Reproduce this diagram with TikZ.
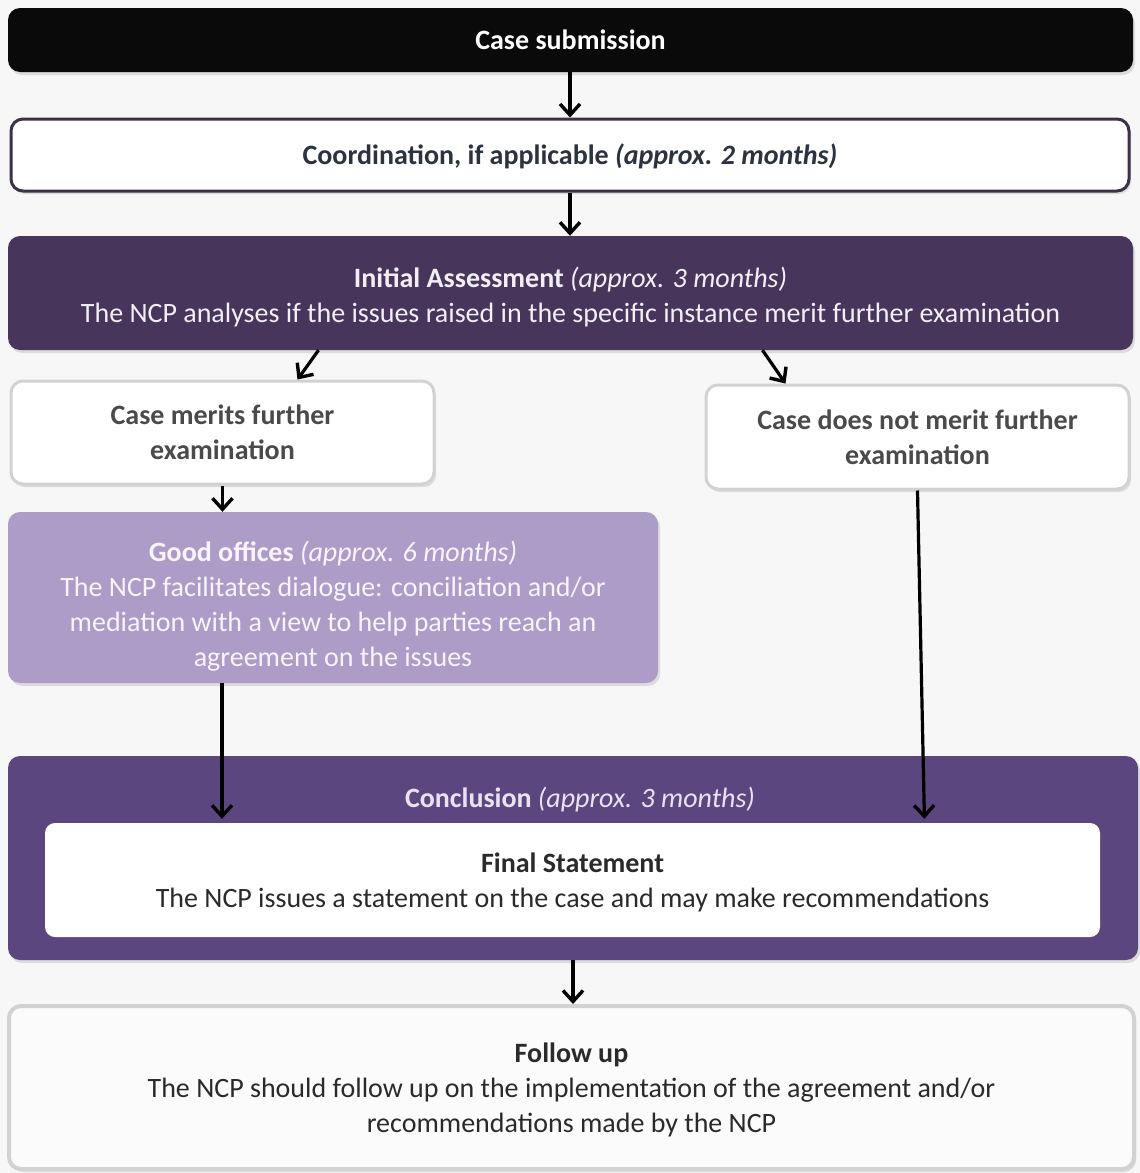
\documentclass[tikz,border=0pt]{standalone}
\usepackage{fontspec}
\setmainfont{Carlito}
\usetikzlibrary{arrows.meta,shadows}
\definecolor{bgc}{HTML}{F7F7F7}
\definecolor{blk}{HTML}{0A0A0A}
\definecolor{coordb}{HTML}{3B3148}
\definecolor{coordt}{HTML}{2B3240}
\definecolor{initf}{HTML}{47355C}
\definecolor{initt}{HTML}{F2EFF6}
\definecolor{greyb}{HTML}{D2D2D2}
\definecolor{greyt}{HTML}{4A4A4A}
\definecolor{goodf}{HTML}{AD9CC7}
\definecolor{goodt}{HTML}{F7F4FB}
\definecolor{conclf}{HTML}{5B4680}
\definecolor{conclt}{HTML}{EAE2F2}
\definecolor{darkt}{HTML}{2A2A2A}
\begin{document}
\begin{tikzpicture}[x=1pt,y=-1pt,
  box/.style={rectangle, rounded corners=12pt, align=center, inner sep=0pt,
    font=\fontsize{28}{35}\selectfont,
    drop shadow={shadow xshift=2pt,shadow yshift=-3pt,opacity=0.22}},
  plain/.style={align=center, inner sep=0pt, font=\fontsize{28}{35}\selectfont},
  arr/.style={-{Straight Barb[length=11pt,width=20pt,line width=3.4pt]}, line width=3.2pt, black}]
\fill[bgc] (0,0) rectangle (1140,1173);
\useasboundingbox (0,0) rectangle (1140,1173);

\node[box, fill=blk, text=white, minimum width=1125pt, minimum height=64pt] (sub) at (570.5,40) {\textbf{Case submission}};

\node[box, fill=white, draw=coordb, line width=3pt, text=coordt, minimum width=1118pt, minimum height=72pt] (coord) at (570,155) {\rule{0pt}{23pt}\textbf{Coordination, if applicable \textit{(approx. 2 months)}}};

\node[box, fill=initf, text=initt, minimum width=1125pt, minimum height=114pt] (init) at (570.5,293) {\rule{0pt}{29pt}\textbf{Initial Assessment} \textit{(approx. 3 months)}\\The NCP analyses if the issues raised in the specific instance merit further examination};

\node[box, fill=white, draw=greyb, line width=3pt, text=greyt, minimum width=423pt, minimum height=103pt] (merit) at (222.5,432.5) {\textbf{Case merits further}\\\textbf{examination}};

\node[box, fill=white, draw=greyb, line width=3pt, text=greyt, minimum width=423pt, minimum height=104pt] (nomerit) at (917.5,437) {\textbf{Case does not merit further}\\\textbf{examination}};

\node[box, fill=goodf, text=goodt, minimum width=650pt, minimum height=171pt] (good) at (333,597.5) {\rule{0pt}{37pt}\textbf{Good offices} \textit{(approx. 6 months)}\\The NCP facilitates dialogue: conciliation and/or\\mediation with a view to help parties reach an\\agreement on the issues};

\node[box, fill=conclf, minimum width=1130pt, minimum height=204pt] (concl) at (573,858) {};
\node[plain, text=conclt] (concltxt) at (580,800) {\textbf{Conclusion} \textit{(approx. 3 months)}};
\node[rectangle, rounded corners=10pt, fill=white, align=center, inner sep=0pt, text=darkt, font=\fontsize{28}{35}\selectfont, minimum width=1055pt, minimum height=114pt] (final) at (572.5,880) {\rule{0pt}{25pt}\textbf{Final Statement}\\The NCP issues a statement on the case and may make recommendations};

\node[box, fill=white!97!gray, draw=greyb, line width=4pt, text=darkt, minimum width=1125pt, minimum height=163pt] (follow) at (571.5,1087.5) {\rule{0pt}{25pt}\textbf{Follow up}\\The NCP should follow up on the implementation of the agreement and/or\\recommendations made by the NCP};

\draw[arr] (sub.south -| 570,0) -- (coord.north -| 570,0);
\draw[arr] (coord.south -| 570,0) -- (init.north -| 570,0);
\draw[arr] ([xshift=-252pt]init.south) -- ([xshift=75pt]merit.north);
\draw[arr] ([xshift=192pt]init.south) -- ([xshift=-132pt]nomerit.north);
\draw[arr] (merit.south) -- (merit.south |- good.north);
\draw[arr, shorten >=4pt] (good.south -| 222,0) -- (final.north -| 222,0);
\draw[arr, shorten >=4pt] (nomerit.south) -- ([xshift=7pt]nomerit.south |- final.north);
\draw[arr] (concl.south) -- (concl.south |- follow.north);
\end{tikzpicture}
\end{document}
